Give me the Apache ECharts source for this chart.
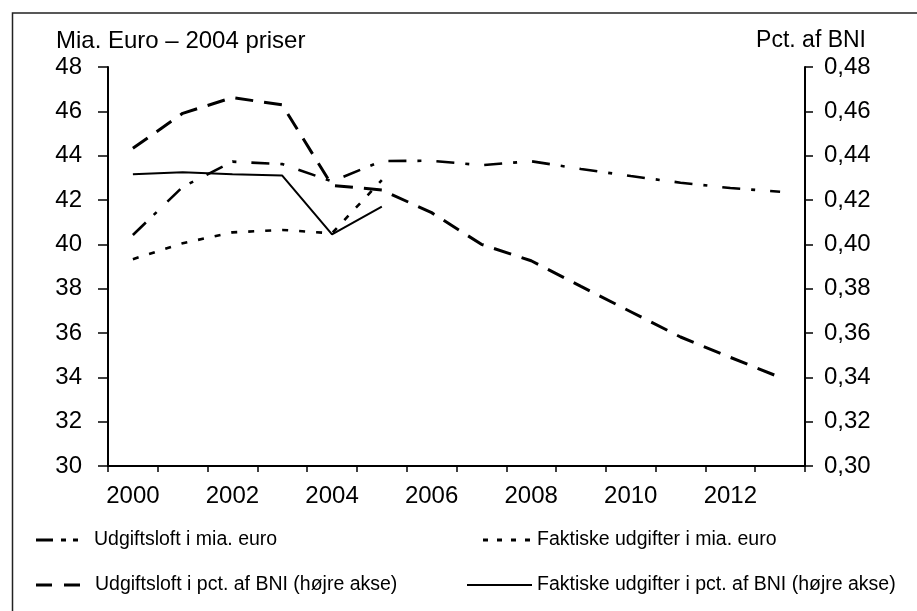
<!DOCTYPE html>
<html><head><meta charset="utf-8">
<script src="https://cdn.jsdelivr.net/npm/echarts@6/dist/echarts.min.js"></script>
<style>html,body{margin:0;padding:0;background:#fff}#c{width:917px;height:611px}</style>
</head><body><div id="c"></div>
<script>
const years = ['2000','2001','2002','2003','2004','2005','2006','2007','2008','2009','2010','2011','2012','2013'];
const udgiftsloftMia = [40.42, 42.59, 43.73, 43.62, 42.84, 43.76, 43.77, 43.57, 43.75, 43.40, 43.08, 42.78, 42.54, 42.37];
const faktiskeMia = [39.33, 40.05, 40.54, 40.65, 40.50, 42.90, null, null, null, null, null, null, null, null];
const udgiftsloftPct = [0.4433, 0.4591, 0.4662, 0.4629, 0.4266, 0.4245, 0.4143, 0.4000, 0.3926, 0.3810, 0.3696, 0.3582, 0.3490, 0.3400];
const faktiskePct = [0.4316, 0.4325, 0.4316, 0.4310, 0.4045, 0.4170, null, null, null, null, null, null, null, null];
const names = ['Udgiftsloft i mia. euro', 'Faktiske udgifter i mia. euro', 'Udgiftsloft i pct. af BNI (højre akse)', 'Faktiske udgifter i pct. af BNI (højre akse)'];

const FONT = 'Liberation Sans, Arial, sans-serif';
const chart = echarts.init(document.getElementById('c'), null, {renderer: 'canvas'});
const axisCommon = {
  axisLine: {show: true, lineStyle: {color: '#000', width: 2}},
  splitLine: {show: false},
  axisLabel: {color: '#000', fontSize: 24, fontFamily: FONT}
};
function legendAt(name, left, top, icon, w, h, gap) {
  return {
    data: [{name: name, icon: icon}], left: left, top: top, orient: 'horizontal', padding: 0,
    itemWidth: w, itemHeight: h, itemGap: 0, selectedMode: false,
    itemStyle: {color: '#000', borderWidth: 0},
    textStyle: {color: '#000', fontSize: 19.5, fontFamily: FONT, padding: [0, 0, 0, gap]}
  };
}
// legend key shapes (filled paths in icon units)
const iconDashDot = 'path://M0,0h17v3h-17z M25,0h5v3h-5z M37,0h5v3h-5z';
const iconDots = 'path://M0,0h5v3h-5z M14,0h5v3h-5z M28,0h5v3h-5z M42,0h5v3h-5z';
const iconDash = 'path://M0,0h16v3h-16z M28,0h16v3h-16z';
const iconSolid = 'path://M0,0h65v2h-65z';
chart.setOption({
  backgroundColor: '#fff',
  animation: false,
  title: [
    {text: 'Mia. Euro – 2004 priser', left: 51, top: 24, textStyle: {fontSize: 24, fontWeight: 'normal', color: '#000', fontFamily: FONT}},
    {text: 'Pct. af BNI', right: 46, top: 24, textStyle: {fontSize: 23, fontWeight: 'normal', color: '#000', fontFamily: FONT}}
  ],
  graphic: [{type: 'rect', shape: {x: 12.5, y: 13, width: 1000, height: 1000}, style: {fill: 'none', stroke: '#222', lineWidth: 1.5}, silent: true}],
  grid: {left: 108, right: 112, top: 67, bottom: 145, containLabel: false},
  xAxis: Object.assign({}, axisCommon, {
    type: 'category', data: years, boundaryGap: true,
    axisTick: {show: true, interval: 0, length: 6, lineStyle: {color: '#000', width: 1.5}},
    axisLabel: Object.assign({}, axisCommon.axisLabel, {interval: 1, margin: 18})
  }),
  yAxis: [
    Object.assign({}, axisCommon, {
      type: 'value', min: 30, max: 48, interval: 2, position: 'left',
      axisTick: {show: true, length: 10, lineStyle: {color: '#000', width: 1.5}},
      axisLabel: Object.assign({}, axisCommon.axisLabel, {margin: 26})
    }),
    Object.assign({}, axisCommon, {
      type: 'value', min: 0.30, max: 0.48, interval: 0.02, position: 'right',
      axisTick: {show: true, length: 8, lineStyle: {color: '#000', width: 1.5}},
      axisLabel: Object.assign({}, axisCommon.axisLabel, {margin: 19, formatter: v => v.toFixed(2).replace('.', ',')})
    })
  ],
  legend: [
    legendAt(names[0], 36, 530, iconDashDot, 44, 3, 10),
    legendAt(names[1], 483, 530, iconDots, 47, 3, 2),
    legendAt(names[2], 36, 575, iconDash, 44, 3, 10),
    legendAt(names[3], 467, 575, iconSolid, 65, 2, 0)
  ],
  series: [
    {name: names[0], type: 'line', data: udgiftsloftMia, yAxisIndex: 0, symbol: 'none', showSymbol: false,
     lineStyle: {color: '#000', width: 2.6, type: [18, 11, 4, 15]}, itemStyle: {color: '#000'}},
    {name: names[1], type: 'line', data: faktiskeMia, yAxisIndex: 0, symbol: 'none', showSymbol: false,
     lineStyle: {color: '#000', width: 2.6, type: [6, 11]}, itemStyle: {color: '#000'}},
    {name: names[2], type: 'line', data: udgiftsloftPct, yAxisIndex: 1, symbol: 'none', showSymbol: false,
     lineStyle: {color: '#000', width: 3, type: [18, 11]}, itemStyle: {color: '#000'}},
    {name: names[3], type: 'line', data: faktiskePct, yAxisIndex: 1, symbol: 'none', showSymbol: false,
     lineStyle: {color: '#000', width: 2, type: 'solid'}, itemStyle: {color: '#000'}}
  ]
});
</script></body></html>
